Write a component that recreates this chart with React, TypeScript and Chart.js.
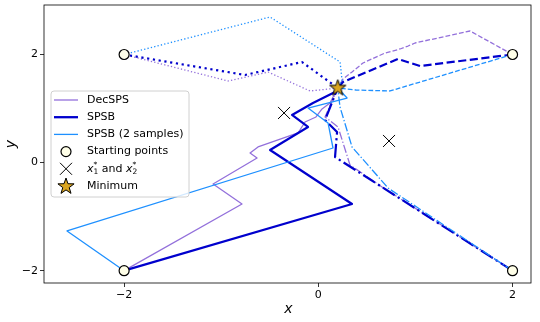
import React, { useEffect, useRef } from "react";
import { Chart, registerables } from "chart.js";
Chart.register(...registerables);

// ---- axis ranges & ticks ----
const X_MIN = -2.825;
const X_MAX = 2.19;
const Y_MIN = -2.228;
const Y_MAX = 2.916;
const xTickValues = [-2, 0, 2];
const yTickValues = [-2, 0, 2];

// ---- markers ----
const startX = [-2, 2, -2, 2];
const startY = [2, 2, -2, -2];
const optX = [-0.353, 0.728];
const optY = [0.918, 0.4];
const minX = [0.2];
const minY = [1.38];

// ---- DecSPS trajectories ----
const decSolidX = [-2, -0.786, -1.084, -0.631, -0.703, -0.621, -0.209, -0.137, -0.024, 0.038, 0.12, 0.2];
const decSolidY = [-2, -0.766, -0.396, 0.085, 0.178, 0.289, 0.548, 0.751, 0.844, 0.992, 1.103, 1.38];
const decDotX = [-2, -0.93, -0.518, -0.085, 0.2];
const decDotY = [2, 1.51, 1.676, 1.325, 1.38];
const decDashX = [2, 1.562, 0.996, 0.924, 0.842, 0.687, 0.46, 0.347, 0.254, 0.2];
const decDashY = [2, 2.435, 2.213, 2.157, 2.102, 2.028, 1.843, 1.676, 1.547, 1.38];
const decDashDotX = [2, 0.656, 0.326, 0.203, 0.069, 0.2];
const decDashDotY = [-2, -0.451, -0.044, 0.659, 0.844, 1.38];

// ---- SPSB trajectories ----
const spsbSolidX = [-2, 0.347, -0.497, -0.106, -0.271, -0.055, 0.172, 0.2];
const spsbSolidY = [-2, -0.766, 0.233, 0.659, 0.881, 1.103, 1.306, 1.38];
const spsbDotX = [-2, -0.755, -0.168, 0.2];
const spsbDotY = [2, 1.621, 1.861, 1.38];
const spsbDashX = [2, 1.047, 0.821, 0.254, 0.2];
const spsbDashY = [2, 1.787, 1.917, 1.491, 1.38];
const spsbDashDotX = [2, 0.172, 0.193, 0.069, 0.2];
const spsbDashDotY = [-2, 0.104, 0.566, 0.788, 1.38];

// ---- SPSB (2 samples) trajectories ----
const sp2SolidX = [-2, -2.588, 0.151, 0.1, -0.106, 0.296, 0.2];
const sp2SolidY = [-2, -1.265, 0.27, 0.733, 1.01, 1.195, 1.38];
const sp2DotX = [-2, -0.497, 0.224, 0.244, 0.2];
const sp2DotY = [2, 2.694, 1.861, 1.528, 1.38];
const sp2DashX = [2, 0.738, 0.388, 0.2];
const sp2DashY = [2, 1.325, 1.343, 1.38];
const sp2DashDotX = [2, 0.718, 0.347, 0.223, 0.2];
const sp2DashDotY = [-2, -0.47, 0.289, 1.029, 1.38];

const C_DEC = "#9370DB";
const C_SPSB = "#0000CD";
const C_SP2 = "#1E90FF";
const C_START = "#FFFFE8";
const C_STAR = "#DAA520";
const FONT = "DejaVu Sans";

const pts = (xs: number[], ys: number[]) => xs.map((x, i) => ({ x, y: ys[i] }));

function dashFor(style: string, lw: number): number[] {
  if (style === "dot") return [1 * lw, 1.65 * lw];
  if (style === "dash") return [3.7 * lw, 1.6 * lw];
  if (style === "dashdot") return [6.4 * lw, 1.6 * lw, 1 * lw, 1.6 * lw];
  return [];
}

function makeStar(r: number): HTMLCanvasElement {
  const c = document.createElement("canvas");
  const s = Math.ceil(r * 2 + 4);
  c.width = s;
  c.height = s;
  const ctx = c.getContext("2d")!;
  drawStar(ctx, s / 2, s / 2, r);
  return c;
}

function drawStar(ctx: CanvasRenderingContext2D, cx: number, cy: number, r: number) {
  const ri = r * 0.4;
  ctx.beginPath();
  for (let i = 0; i < 10; i++) {
    const rad = i % 2 === 0 ? r : ri;
    const a = -Math.PI / 2 + (i * Math.PI) / 5;
    const px = cx + rad * Math.cos(a);
    const py = cy + rad * Math.sin(a);
    if (i === 0) ctx.moveTo(px, py);
    else ctx.lineTo(px, py);
  }
  ctx.closePath();
  ctx.fillStyle = C_STAR;
  ctx.fill();
  ctx.lineWidth = 1;
  ctx.strokeStyle = "#000";
  ctx.stroke();
}

const fmt = (v: number) => (v < 0 ? "\u2212" + Math.abs(v) : String(v));

const overlayPlugin = {
  id: "overlay",
  afterDraw(chart: any) {
    const ctx: CanvasRenderingContext2D = chart.ctx;
    const a = chart.chartArea;
    ctx.save();
    // frame
    ctx.strokeStyle = "#000";
    ctx.lineWidth = 0.8;
    ctx.strokeRect(a.left, a.top, a.right - a.left, a.bottom - a.top);

    // axis titles
    ctx.fillStyle = "#000";
    ctx.font = `oblique 14px ${FONT}`;
    ctx.textAlign = "center";
    ctx.textBaseline = "middle";
    ctx.fillText("x", (a.left + a.right) / 2 + 1, 309);
    ctx.save();
    ctx.translate(11, (a.top + a.bottom) / 2);
    ctx.rotate(-Math.PI / 2);
    ctx.fillText("y", 0, 0);
    ctx.restore();

    // legend box
    const bx = 51, by = 91, bw = 138, bh = 106, br = 3;
    ctx.beginPath();
    ctx.moveTo(bx + br, by);
    ctx.lineTo(bx + bw - br, by);
    ctx.quadraticCurveTo(bx + bw, by, bx + bw, by + br);
    ctx.lineTo(bx + bw, by + bh - br);
    ctx.quadraticCurveTo(bx + bw, by + bh, bx + bw - br, by + bh);
    ctx.lineTo(bx + br, by + bh);
    ctx.quadraticCurveTo(bx, by + bh, bx, by + bh - br);
    ctx.lineTo(bx, by + br);
    ctx.quadraticCurveTo(bx, by, bx + br, by);
    ctx.closePath();
    ctx.fillStyle = "rgba(255,255,255,0.8)";
    ctx.fill();
    ctx.strokeStyle = "#d0d0d0";
    ctx.lineWidth = 1;
    ctx.stroke();

    const rowY = [100, 117.2, 134.4, 151.6, 168.8, 186];
    const hx0 = 54, hx1 = 78, hc = 66, tx = 87;
    const lineHandle = (y: number, color: string, lw: number) => {
      ctx.beginPath();
      ctx.moveTo(hx0, y);
      ctx.lineTo(hx1, y);
      ctx.strokeStyle = color;
      ctx.lineWidth = lw;
      ctx.stroke();
    };
    lineHandle(rowY[0], C_DEC, 1.3);
    lineHandle(rowY[1], C_SPSB, 2.3);
    lineHandle(rowY[2], C_SP2, 1.3);
    // circle
    ctx.beginPath();
    ctx.arc(hc, rowY[3], 5, 0, Math.PI * 2);
    ctx.fillStyle = C_START;
    ctx.fill();
    ctx.strokeStyle = "#000";
    ctx.lineWidth = 1.2;
    ctx.stroke();
    // x marker
    ctx.beginPath();
    ctx.moveTo(hc - 6, rowY[4] - 6);
    ctx.lineTo(hc + 6, rowY[4] + 6);
    ctx.moveTo(hc - 6, rowY[4] + 6);
    ctx.lineTo(hc + 6, rowY[4] - 6);
    ctx.lineWidth = 1;
    ctx.stroke();
    // star
    drawStar(ctx, hc, rowY[5] + 0.5, 8.5);

    // texts
    ctx.fillStyle = "#000";
    ctx.textAlign = "left";
    ctx.textBaseline = "middle";
    ctx.font = `11px ${FONT}`;
    ctx.fillText("DecSPS", tx, rowY[0]);
    ctx.fillText("SPSB", tx, rowY[1]);
    ctx.fillText("SPSB (2 samples)", tx, rowY[2]);
    ctx.fillText("Starting points", tx, rowY[3]);
    ctx.fillText("Minimum", tx, rowY[5]);
    // x1* and x2*
    const y4 = rowY[4];
    const drawAt = (t: string, font: string, x: number, dy: number) => {
      ctx.font = font;
      ctx.fillText(t, x, y4 + dy);
      return ctx.measureText(t).width;
    };
    let cx = tx;
    const wx = drawAt("x", `oblique 11px ${FONT}`, cx, 0);
    const w1 = drawAt("1", `7.5px ${FONT}`, cx + wx, 3.5);
    const ws = drawAt("*", `7.5px ${FONT}`, cx + wx, -4);
    cx += wx + Math.max(w1, ws);
    cx += drawAt(" and ", `11px ${FONT}`, cx, 0);
    const wx2 = drawAt("x", `oblique 11px ${FONT}`, cx, 0);
    drawAt("2", `7.5px ${FONT}`, cx + wx2, 3.5);
    drawAt("*", `7.5px ${FONT}`, cx + wx2, -4);
    ctx.restore();
  },
};

export default function App() {
  const ref = useRef<HTMLCanvasElement>(null);
  useEffect(() => {
    const canvas = ref.current!;
    const starImg = makeStar(8.5);
    const line = (
      label: string,
      xs: number[],
      ys: number[],
      color: string,
      lw: number,
      style: string,
      order: number
    ) => ({
      label,
      data: pts(xs, ys),
      showLine: true,
      borderColor: color,
      borderWidth: lw,
      borderDash: dashFor(style, lw),
      borderCapStyle: "butt" as const,
      borderJoinStyle: "round" as const,
      pointRadius: 0,
      pointHoverRadius: 0,
      fill: false,
      tension: 0,
      order,
    });
    const chart = new Chart(canvas, {
      type: "scatter",
      data: {
        datasets: [
          {
            label: "Minimum",
            data: pts(minX, minY),
            pointStyle: starImg as any,
            pointRadius: 9,
            showLine: false,
            order: -2,
          },
          {
            label: "Starting points",
            data: pts(startX, startY),
            pointStyle: "circle",
            pointRadius: 5,
            pointBackgroundColor: C_START,
            pointBorderColor: "#000",
            pointBorderWidth: 1.2,
            showLine: false,
            order: -1,
          },
          {
            label: "x* ",
            data: pts(optX, optY),
            pointStyle: "crossRot",
            pointRadius: 8.5,
            pointBorderColor: "#000",
            pointBorderWidth: 1,
            showLine: false,
            order: -1,
          },
          line("SPSB2 solid", sp2SolidX, sp2SolidY, C_SP2, 1.3, "solid", 1),
          line("SPSB2 dot", sp2DotX, sp2DotY, C_SP2, 1.3, "dot", 1),
          line("SPSB2 dash", sp2DashX, sp2DashY, C_SP2, 1.3, "dash", 1),
          line("SPSB2 dashdot", sp2DashDotX, sp2DashDotY, C_SP2, 1.3, "dashdot", 1),
          line("SPSB solid", spsbSolidX, spsbSolidY, C_SPSB, 2.2, "solid", 2),
          line("SPSB dot", spsbDotX, spsbDotY, C_SPSB, 2.2, "dot", 2),
          line("SPSB dash", spsbDashX, spsbDashY, C_SPSB, 2.2, "dash", 2),
          line("SPSB dashdot", spsbDashDotX, spsbDashDotY, C_SPSB, 2.2, "dashdot", 2),
          line("DecSPS solid", decSolidX, decSolidY, C_DEC, 1.3, "solid", 3),
          line("DecSPS dot", decDotX, decDotY, C_DEC, 1.3, "dot", 3),
          line("DecSPS dash", decDashX, decDashY, C_DEC, 1.3, "dash", 3),
          line("DecSPS dashdot", decDashDotX, decDashDotY, C_DEC, 1.3, "dashdot", 3),
        ],
      },
      options: {
        responsive: false,
        animation: false,
        events: [],
        layout: { autoPadding: false, padding: { left: 0, top: 5, right: 9, bottom: 0 } },
        plugins: { legend: { display: false }, tooltip: { enabled: false } },
        scales: {
          x: {
            type: "linear",
            min: X_MIN,
            max: X_MAX,
            afterBuildTicks: (axis: any) => {
              axis.ticks = xTickValues.map((v) => ({ value: v }));
            },
            afterFit: (axis: any) => {
              axis.height = 39;
              axis.paddingLeft = 0;
              axis.paddingRight = 0;
            },
            ticks: {
              color: "#000",
              font: { family: FONT, size: 11 },
              padding: 2,
              maxRotation: 0,
              autoSkip: false,
              callback: (v: any) => fmt(Number(v)),
            },
            grid: {
              display: true,
              drawOnChartArea: false,
              drawTicks: true,
              tickLength: 4,
              color: "#000",
              lineWidth: 0.8,
            },
            border: { display: false },
          },
          y: {
            type: "linear",
            min: Y_MIN,
            max: Y_MAX,
            afterBuildTicks: (axis: any) => {
              axis.ticks = yTickValues.map((v) => ({ value: v }));
            },
            afterFit: (axis: any) => {
              axis.width = 44;
              axis.paddingTop = 0;
              axis.paddingBottom = 0;
            },
            ticks: {
              color: "#000",
              font: { family: FONT, size: 11 },
              padding: 2,
              autoSkip: false,
              callback: (v: any) => fmt(Number(v)),
            },
            grid: {
              display: true,
              drawOnChartArea: false,
              drawTicks: true,
              tickLength: 4,
              color: "#000",
              lineWidth: 0.8,
            },
            border: { display: false },
          },
        },
      },
      plugins: [overlayPlugin],
    });
    return () => chart.destroy();
  }, []);
  return (
    <div style={{ position: "absolute", left: 0, top: 0, width: 540, height: 322, background: "#fff" }}>
      <canvas ref={ref} width={540} height={322} style={{ display: "block", width: 540, height: 322 }} />
    </div>
  );
}
